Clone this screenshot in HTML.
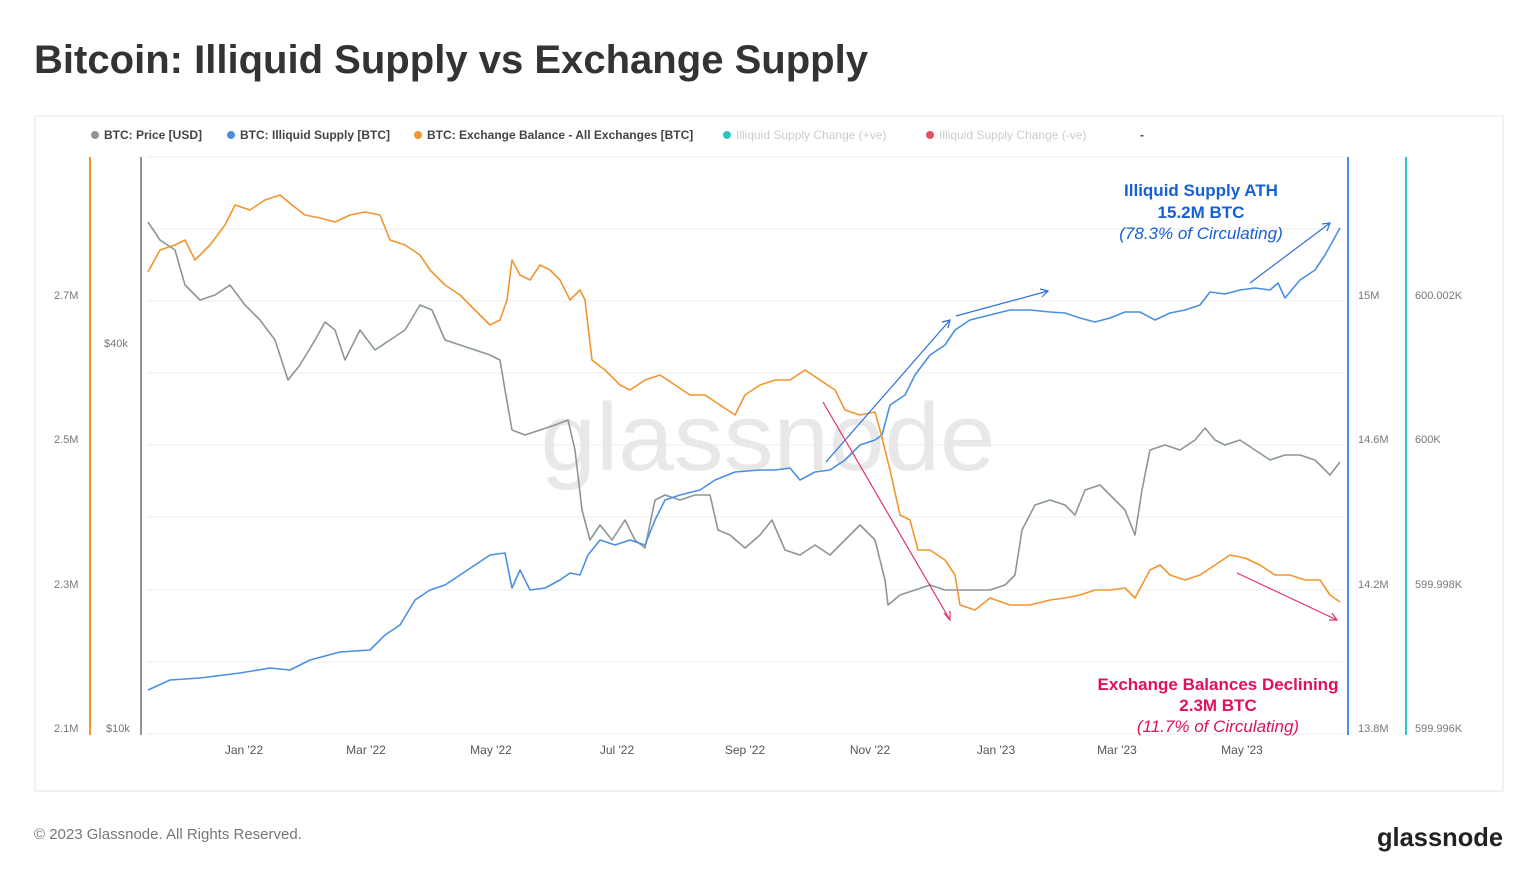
<!DOCTYPE html>
<html><head><meta charset="utf-8"><style>
body{margin:0;background:#fff;font-family:"Liberation Sans",sans-serif;}
</style></head><body>
<svg width="1536" height="884" xmlns="http://www.w3.org/2000/svg" style="display:block">
<rect width="1536" height="884" fill="#fff"/>
<text x="34" y="73" font-size="40" fill="#333" font-weight="bold" textLength="834" lengthAdjust="spacingAndGlyphs" font-family="Liberation Sans">Bitcoin: Illiquid Supply vs Exchange Supply</text>
<rect x="35" y="116" width="1468" height="675" fill="#fff" stroke="#e6e6e6"/>
<g font-size="12" font-weight="bold" fill="#444">
<circle cx="95" cy="135" r="4" fill="#8c9699"/><text x="104" y="139">BTC: Price [USD]</text>
<circle cx="231" cy="135" r="4" fill="#4a90e2"/><text x="240" y="139">BTC: Illiquid Supply [BTC]</text>
<circle cx="418" cy="135" r="4" fill="#f2952f"/><text x="427" y="139">BTC: Exchange Balance - All Exchanges [BTC]</text>
<circle cx="727" cy="135" r="4" fill="#2ec4c4"/><text x="736" y="139" fill="#ccc" font-weight="normal">Illiquid Supply Change (+ve)</text>
<circle cx="930" cy="135" r="4" fill="#e85060"/><text x="939" y="139" fill="#ccc" font-weight="normal">Illiquid Supply Change (-ve)</text>
<text x="1140" y="139">-</text>
</g>
<g stroke="#ececec" stroke-width="1">
<line x1="147" y1="157" x2="1345" y2="157"/><line x1="147" y1="229" x2="1345" y2="229"/>
<line x1="147" y1="301" x2="1345" y2="301"/><line x1="147" y1="373" x2="1345" y2="373"/>
<line x1="147" y1="445" x2="1345" y2="445"/><line x1="147" y1="517" x2="1345" y2="517"/>
<line x1="147" y1="590" x2="1345" y2="590"/><line x1="147" y1="662" x2="1345" y2="662"/>
<line x1="147" y1="734" x2="1345" y2="734"/>
</g>
<line x1="90" y1="157" x2="90" y2="735" stroke="#f2952f" stroke-width="2"/>
<line x1="141" y1="157" x2="141" y2="735" stroke="#8c9699" stroke-width="2"/>
<line x1="1348" y1="157" x2="1348" y2="735" stroke="#4a90e2" stroke-width="2"/>
<line x1="1406" y1="157" x2="1406" y2="735" stroke="#2ec4c4" stroke-width="2"/>
<g font-size="11" fill="#777">
<text x="54" y="299">2.7M</text><text x="54" y="443">2.5M</text><text x="54" y="588">2.3M</text><text x="54" y="732">2.1M</text>
<text x="104" y="347">$40k</text><text x="106" y="732">$10k</text>
<text x="1358" y="299">15M</text><text x="1358" y="443">14.6M</text><text x="1358" y="588">14.2M</text><text x="1358" y="732">13.8M</text>
<text x="1415" y="299">600.002K</text><text x="1415" y="443">600K</text><text x="1415" y="588">599.998K</text><text x="1415" y="732">599.996K</text>
</g>
<g font-size="12" fill="#555" text-anchor="middle">
<text x="244" y="754">Jan '22</text><text x="366" y="754">Mar '22</text><text x="491" y="754">May '22</text><text x="617" y="754">Jul '22</text><text x="745" y="754">Sep '22</text><text x="870" y="754">Nov '22</text><text x="996" y="754">Jan '23</text><text x="1117" y="754">Mar '23</text><text x="1242" y="754">May '23</text>
</g>
<text x="768" y="470" font-size="96" fill="#e8e8e8" text-anchor="middle" textLength="455" lengthAdjust="spacingAndGlyphs" font-family="Liberation Sans">glassnode</text>
<g fill="none" stroke-width="1.6" stroke-linejoin="round">
<polyline stroke="#8c9699" points="148,222 160,240 175,250 185,285 200,300 215,295 230,285 245,305 260,320 275,340 288,380 300,365 315,340 325,322 335,330 345,360 360,330 375,350 390,340 405,330 420,305 432,310 445,340 460,345 475,350 490,355 500,360 505,390 512,430 525,435 540,430 555,425 568,420 575,450 582,510 590,540 600,525 612,540 625,520 635,540 645,548 655,500 665,495 680,500 695,495 710,495 718,530 730,535 745,548 760,535 772,520 785,550 800,555 815,545 830,555 845,540 860,525 875,540 885,580 888,605 900,595 915,590 930,585 945,590 960,590 975,590 990,590 1005,585 1015,575 1022,530 1035,505 1050,500 1065,505 1075,515 1085,490 1100,485 1110,495 1125,510 1135,535 1142,490 1150,450 1165,445 1180,450 1195,440 1205,428 1215,440 1225,445 1240,440 1255,450 1270,460 1285,455 1300,455 1315,460 1330,475 1340,462"/>
<polyline stroke="#4a90e2" points="148,690 170,680 200,678 240,673 270,668 290,670 310,660 340,652 370,650 385,635 400,625 415,600 430,590 445,585 460,575 475,565 490,555 505,553 512,588 520,570 530,590 545,588 560,580 570,573 580,575 588,555 600,540 615,545 630,540 645,545 655,520 665,500 680,495 700,490 715,480 735,472 760,470 775,470 790,468 800,480 815,472 830,470 845,460 860,445 875,440 882,435 890,405 905,395 915,375 930,355 945,345 955,330 970,320 990,315 1010,310 1030,310 1050,312 1065,313 1080,318 1095,322 1110,318 1125,312 1140,312 1155,320 1170,313 1185,310 1200,305 1210,292 1225,294 1240,290 1255,288 1270,290 1278,283 1285,298 1290,292 1300,280 1315,270 1325,255 1340,228"/>
<polyline stroke="#f2952f" points="148,272 160,250 175,245 185,240 195,260 210,245 225,225 235,205 250,210 265,200 280,195 292,205 305,215 320,218 335,222 350,215 365,212 380,215 390,240 405,245 420,255 430,270 445,285 460,295 475,310 490,325 500,320 507,300 512,260 520,275 530,280 540,265 550,270 560,280 570,300 580,290 585,300 592,360 605,370 620,385 630,390 645,380 660,375 675,385 690,395 705,395 720,405 735,415 745,395 760,385 775,380 790,380 805,370 820,380 835,390 845,410 860,415 875,412 880,430 890,470 900,515 910,520 918,550 930,550 945,560 955,575 960,605 975,610 990,598 1010,605 1030,605 1050,600 1065,598 1080,595 1095,590 1110,590 1125,588 1135,598 1150,570 1160,565 1170,575 1185,580 1200,575 1215,565 1230,555 1245,558 1260,565 1275,575 1290,575 1305,580 1320,580 1330,595 1340,602"/>
</g>
<g stroke-width="1.2" fill="none">
<g stroke="#2f6fe0"><line x1="826" y1="462" x2="950" y2="320"/><polyline points="942,322 950,320 948,328"/>
<line x1="956" y1="316" x2="1048" y2="291"/><polyline points="1040,289 1048,291 1042,297"/>
<line x1="1250" y1="283" x2="1330" y2="223"/><polyline points="1322,224 1330,223 1327,231"/></g>
<g stroke="#e0306a"><line x1="823" y1="402" x2="950" y2="620"/><polyline points="944,613 950,620 950,611"/>
<line x1="1237" y1="573" x2="1337" y2="620"/><polyline points="1329,620 1337,620 1332,613"/></g>
</g>
<g text-anchor="middle" font-size="17">
<text x="1201" y="196" fill="#1560d6" font-weight="bold">Illiquid Supply ATH</text>
<text x="1201" y="218" fill="#1560d6" font-weight="bold">15.2M BTC</text>
<text x="1201" y="239" fill="#1560d6" font-style="italic">(78.3% of Circulating)</text>
<text x="1218" y="690" fill="#e0105f" font-weight="bold">Exchange Balances Declining</text>
<text x="1218" y="711" fill="#e0105f" font-weight="bold">2.3M BTC</text>
<text x="1218" y="732" fill="#e0105f" font-style="italic">(11.7% of Circulating)</text>
</g>
<text x="34" y="839" font-size="15" fill="#777">© 2023 Glassnode. All Rights Reserved.</text>
<text x="1503" y="846" font-size="26" fill="#222" font-weight="bold" text-anchor="end" textLength="126" lengthAdjust="spacingAndGlyphs">glassnode</text>
</svg>
</body></html>
